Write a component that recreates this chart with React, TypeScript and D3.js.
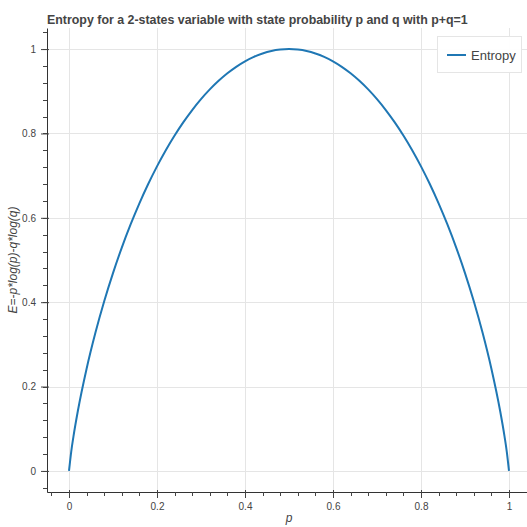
import * as d3 from "d3";
import { useRef, useEffect } from "react";

// state probability p (symmetric around 0.5)
const pValues = [
  0, 0.005, 0.01, 0.02, 0.04, 0.06, 0.08, 0.1, 0.12, 0.14, 0.16, 0.18, 0.2,
  0.22, 0.24, 0.26, 0.28, 0.3, 0.32, 0.34, 0.36, 0.38, 0.4, 0.42, 0.44, 0.46,
  0.48, 0.5, 0.52, 0.54, 0.56, 0.58, 0.6, 0.62, 0.64, 0.66, 0.68, 0.7, 0.72,
  0.74, 0.76, 0.78, 0.8, 0.82, 0.84, 0.86, 0.88, 0.9, 0.92, 0.94, 0.96, 0.98,
  0.99, 0.995, 1,
];
const entropyValues = [
  0, 0.0454, 0.0808, 0.1414, 0.2423, 0.3274, 0.4022, 0.469, 0.5294, 0.5842,
  0.6343, 0.6801, 0.7219, 0.7602, 0.795, 0.8267, 0.8555, 0.8813, 0.9044,
  0.9248, 0.9427, 0.958, 0.971, 0.9815, 0.9896, 0.9954, 0.9988, 1, 0.9988,
  0.9954, 0.9896, 0.9815, 0.971, 0.958, 0.9427, 0.9248, 0.9044, 0.8813,
  0.8555, 0.8267, 0.795, 0.7602, 0.7219, 0.6801, 0.6343, 0.5842, 0.5294,
  0.469, 0.4022, 0.3274, 0.2423, 0.1414, 0.0808, 0.0454, 0,
];
const xTicks = [0, 0.2, 0.4, 0.6, 0.8, 1];
const yTicks = [0, 0.2, 0.4, 0.6, 0.8, 1];
const seriesName = "Entropy";

function App() {
  const svgRef = useRef(null);
  const width = 527;
  const height = 527;
  const frame = { left: 47, right: 531, top: 28, bottom: 492 };

  useEffect(() => {
    document.body.style.margin = "0";
    const svg = d3.select(svgRef.current);
    svg.selectAll("*").remove();

    const x = d3.scaleLinear().domain([-0.05, 1.05]).range([frame.left, frame.right]);
    const y = d3.scaleLinear().domain([-0.05, 1.05]).range([frame.bottom, frame.top]);

    svg
      .append("clipPath")
      .attr("id", "frame")
      .append("rect")
      .attr("x", frame.left)
      .attr("y", frame.top)
      .attr("width", frame.right - frame.left)
      .attr("height", frame.bottom - frame.top);

    const grid = svg.append("g").attr("clip-path", "url(#frame)");
    grid
      .selectAll(".gx")
      .data(xTicks)
      .join("line")
      .attr("x1", (d) => Math.round(x(d)) + 0.5)
      .attr("x2", (d) => Math.round(x(d)) + 0.5)
      .attr("y1", frame.top)
      .attr("y2", frame.bottom)
      .attr("stroke", "#e5e5e5");
    grid
      .selectAll(".gy")
      .data(yTicks)
      .join("line")
      .attr("y1", (d) => Math.round(y(d)) + 0.5)
      .attr("y2", (d) => Math.round(y(d)) + 0.5)
      .attr("x1", frame.left)
      .attr("x2", frame.right)
      .attr("stroke", "#e5e5e5");

    const line = d3
      .line<number>()
      .x((d, i) => x(pValues[i]))
      .y((d) => y(d))
      .curve(d3.curveMonotoneX);

    grid
      .append("path")
      .datum(entropyValues)
      .attr("d", line)
      .attr("fill", "none")
      .attr("stroke", "#1f77b4")
      .attr("stroke-width", 2);

    // axes, bokeh style: major ticks 6 out / 2 in, minor 4 out
    const minorX = d3.range(-0.04, 1.05, 0.04);
    const minorY = d3.range(-0.04, 1.05, 0.04);

    const xAxis = d3
      .axisBottom(x)
      .tickValues(xTicks)
      .tickSize(0)
      .tickFormat((d) => d3.format("~g")(d as number));
    const gx = svg
      .append("g")
      .attr("transform", `translate(0,${frame.bottom})`)
      .call(xAxis);
    gx.select(".domain").attr("stroke", "#000").attr("stroke-opacity", 0.8);
    gx.selectAll("text")
      .attr("dy", "0")
      .attr("y", 18)
      .attr("fill", "#444")
      .style("font-size", "10px")
      .style("font-family", "'Liberation Sans', Arial, sans-serif");
    gx.selectAll(".tick")
      .append("line")
      .attr("y1", -2)
      .attr("y2", 6)
      .attr("stroke", "#444");
    gx.selectAll(".minor")
      .data(minorX)
      .join("line")
      .attr("class", "minor")
      .attr("x1", (d) => Math.round(x(d)) + 0.5)
      .attr("x2", (d) => Math.round(x(d)) + 0.5)
      .attr("y1", 0)
      .attr("y2", 4)
      .attr("stroke", "#444");

    const yAxis = d3
      .axisLeft(y)
      .tickValues(yTicks)
      .tickSize(0)
      .tickFormat((d) => d3.format("~g")(d as number));
    const gy = svg
      .append("g")
      .attr("transform", `translate(${frame.left},0)`)
      .call(yAxis);
    gy.select(".domain").attr("stroke", "#000").attr("stroke-opacity", 0.8);
    gy.selectAll("text")
      .attr("x", -11)
      .attr("fill", "#444")
      .style("font-size", "10px")
      .style("font-family", "'Liberation Sans', Arial, sans-serif");
    gy.selectAll(".tick")
      .append("line")
      .attr("x1", 2)
      .attr("x2", -6)
      .attr("stroke", "#444");
    gy.selectAll(".minor")
      .data(minorY)
      .join("line")
      .attr("class", "minor")
      .attr("y1", (d) => Math.round(y(d)) + 0.5)
      .attr("y2", (d) => Math.round(y(d)) + 0.5)
      .attr("x1", 0)
      .attr("x2", -4)
      .attr("stroke", "#444");

    // axis labels
    svg
      .append("text")
      .attr("x", (frame.left + frame.right) / 2)
      .attr("y", 522)
      .attr("text-anchor", "middle")
      .style("font-family", "'Liberation Sans', Arial, sans-serif")
      .style("font-size", "12px")
      .style("font-style", "italic")
      .attr("fill", "#444")
      .text("p");
    svg
      .append("text")
      .attr("transform", `translate(17,${(frame.top + frame.bottom) / 2}) rotate(-90)`)
      .attr("text-anchor", "middle")
      .style("font-family", "'Liberation Sans', Arial, sans-serif")
      .style("font-size", "12px")
      .style("font-style", "italic")
      .attr("fill", "#444")
      .text("E=-p*log(p)-q*log(q)");

    // title
    svg
      .append("text")
      .attr("x", frame.left)
      .attr("y", 24)
      .style("font-family", "'Liberation Sans', Arial, sans-serif")
      .style("font-size", "12.4px")
      .style("font-weight", "bold")
      .attr("fill", "#444")
      .text("Entropy for a 2-states variable with state probability p and q with p+q=1");

    // legend
    const lg = svg.append("g");
    lg.append("rect")
      .attr("x", 437.5)
      .attr("y", 36.5)
      .attr("width", 84)
      .attr("height", 36)
      .attr("fill", "#fff")
      .attr("fill-opacity", 0.95)
      .attr("stroke", "#e5e5e5");
    lg.append("line")
      .attr("x1", 447)
      .attr("x2", 466)
      .attr("y1", 55)
      .attr("y2", 55)
      .attr("stroke", "#1f77b4")
      .attr("stroke-width", 2);
    lg.append("text")
      .attr("x", 471)
      .attr("y", 59.5)
      .style("font-family", "'Liberation Sans', Arial, sans-serif")
      .style("font-size", "13px")
      .attr("fill", "#444")
      .text(seriesName);
  }, []);

  return (
    <svg
      ref={svgRef}
      width={width}
      height={height}
      style={{ display: "block", background: "#fff" }}
    ></svg>
  );
}

export default App;
